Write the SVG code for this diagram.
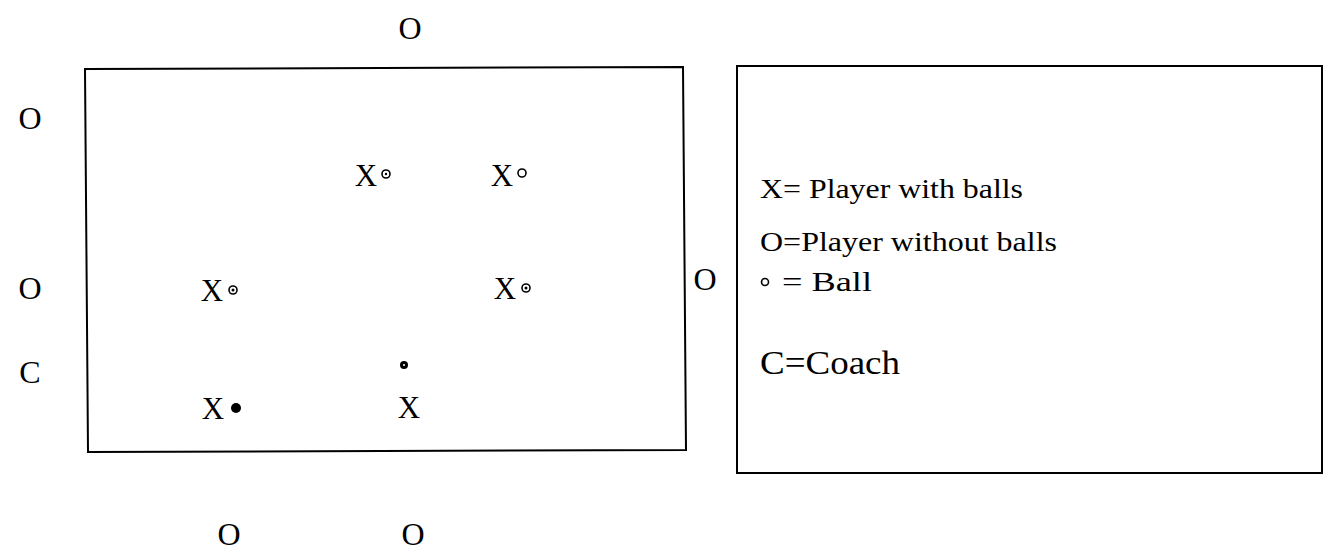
<svg xmlns="http://www.w3.org/2000/svg" width="1329" height="552" viewBox="0 0 1329 552">
<style>
.t{font-family:"Liberation Serif","Times New Roman",serif;fill:#000}
.p{font-size:32px;text-anchor:middle}
.x{font-size:31px;text-anchor:middle}
.lg{font-size:28px}
.box{fill:none;stroke:#000;stroke-width:2}
.ball{fill:none;stroke:#000;stroke-width:1.6}
.bd{fill:#000}
</style>
<rect width="1329" height="552" fill="#fff"/>
<g id="field">
<path class="box" d="M85,69 L683,67 L686,450 L88,452 Z"/>
</g>
<g id="legend">
<rect class="box" x="737" y="66" width="585" height="407"/>
<text class="t lg" x="760" y="198" textLength="263" lengthAdjust="spacingAndGlyphs">X= Player with balls</text>
<text class="t lg" x="760" y="251" textLength="297" lengthAdjust="spacingAndGlyphs">O=Player without balls</text>
<circle class="ball" cx="765" cy="282" r="3.5"/>
<text class="t lg" x="782" y="291" textLength="90" lengthAdjust="spacingAndGlyphs">= Ball</text>
<text class="t" style="font-size:34px" x="760" y="374" textLength="140" lengthAdjust="spacingAndGlyphs">C=Coach</text>
</g>
<g id="outside-players">
<text class="t p" x="410" y="39">O</text>
<text class="t p" x="30" y="129">O</text>
<text class="t p" x="30" y="299">O</text>
<text class="t p" x="30" y="383">C</text>
<text class="t p" x="705" y="290">O</text>
<text class="t p" x="229" y="545">O</text>
<text class="t p" x="413" y="545">O</text>
</g>
<g id="p1"><text class="t x" x="366" y="186">X</text><circle class="ball" cx="386" cy="174" r="4"/><circle class="bd" cx="386" cy="174" r="1.2"/></g>
<g id="p2"><text class="t x" x="502" y="186">X</text><circle class="ball" cx="522" cy="173" r="4"/></g>
<g id="p3"><text class="t x" x="212" y="301">X</text><circle class="ball" cx="233" cy="290" r="4"/><circle class="bd" cx="233" cy="290" r="1.5"/></g>
<g id="p4"><text class="t x" x="505" y="299">X</text><circle class="ball" cx="526" cy="288" r="4"/><circle class="bd" cx="526" cy="288" r="1.5"/></g>
<g id="p5"><circle class="bd" cx="404" cy="365" r="4"/><circle fill="#fff" cx="404" cy="365" r="1"/><text class="t x" x="409" y="418">X</text></g>
<g id="p6"><text class="t x" x="213" y="419">X</text><circle class="bd" cx="236" cy="408" r="5"/></g>
<g id="connectors"></g>
</svg>
